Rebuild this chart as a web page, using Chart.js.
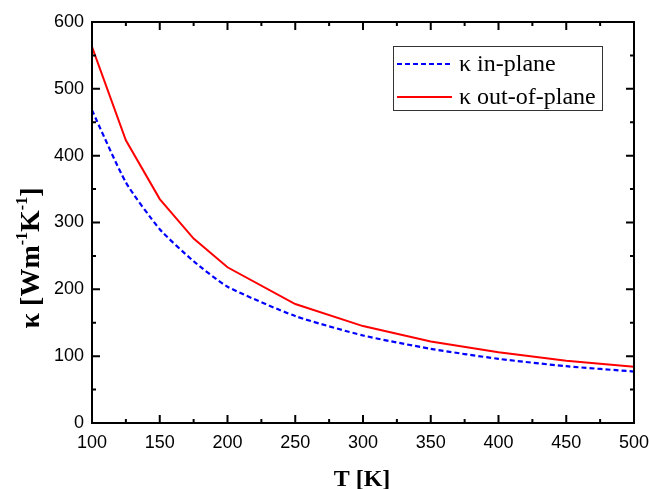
<!DOCTYPE html>
<html>
<head>
<meta charset="utf-8">
<script src="https://cdn.jsdelivr.net/npm/chart.js@4"></script>
<style>
  html, body { margin: 0; padding: 0; background: #fff; }
  #wrap { width: 649px; height: 489px; position: relative; }
</style>
</head>
<body>
<div id="wrap"><canvas id="kappaChart"></canvas></div>
<script>
// Temperatures (K) and thermal conductivity (W m^-1 K^-1)
const temps = [100, 125, 150, 175, 200, 250, 300, 350, 400, 450, 500]
const kappaInPlane = [468, 360, 290, 242, 204, 160, 131, 111, 96, 85, 77]
const kappaOutOfPlane = [563, 423, 335, 276, 233, 178, 145, 122, 106, 93, 84]
const seriesLabels = ['\u03ba in-plane', '\u03ba out-of-plane']
const xTicks = [100, 150, 200, 250, 300, 350, 400, 450, 500]
const yTicks = [0, 100, 200, 300, 400, 500, 600]

const toPoints = (ys) => temps.map((t, i) => ({ x: t, y: ys[i] }))

// Frame, inward ticks, legend box and axis titles (Origin-style)
const originFrame = {
    id: 'originFrame',
    afterDraw(chart) {
        const { ctx, chartArea: a, scales } = chart
        ctx.save()
        ctx.strokeStyle = '#000'
        ctx.lineWidth = 2
        ctx.strokeRect(a.left, a.top, a.right - a.left, a.bottom - a.top)

        for (let t = 100; t <= 500; t += 25) {
            const px = scales.x.getPixelForValue(t)
            const len = t % 50 === 0 ? 8 : 4
            ctx.beginPath()
            ctx.moveTo(px, a.bottom); ctx.lineTo(px, a.bottom - len)
            ctx.moveTo(px, a.top); ctx.lineTo(px, a.top + len)
            ctx.stroke()
        }
        for (let v = 0; v <= 600; v += 50) {
            const py = scales.y.getPixelForValue(v)
            const len = v % 100 === 0 ? 8 : 4
            ctx.beginPath()
            ctx.moveTo(a.left, py); ctx.lineTo(a.left + len, py)
            ctx.moveTo(a.right, py); ctx.lineTo(a.right - len, py)
            ctx.stroke()
        }

        // legend
        ctx.lineWidth = 1
        ctx.strokeStyle = '#333'
        ctx.strokeRect(393.5, 46.5, 209, 64)
        const rows = [
            { y: 64, color: '#0000ff', dash: [5, 3] },
            { y: 97, color: '#ff0000', dash: [] }
        ]
        ctx.font = '24px "Liberation Serif", "Times New Roman", serif'
        ctx.textBaseline = 'middle'
        ctx.fillStyle = '#000'
        rows.forEach((r, i) => {
            ctx.beginPath()
            ctx.setLineDash(r.dash)
            ctx.strokeStyle = r.color
            ctx.lineWidth = 2
            ctx.moveTo(397, r.y); ctx.lineTo(452, r.y)
            ctx.stroke()
            ctx.setLineDash([])
            ctx.fillText(seriesLabels[i], 459, r.y + 1)
        })

        // x title
        ctx.font = 'bold 24px "Liberation Serif", "Times New Roman", serif'
        ctx.textAlign = 'center'
        ctx.textBaseline = 'alphabetic'
        ctx.fillText('T [K]', 362, 486)

        // y title with superscripts
        const big = 'bold 28px "Liberation Serif", "Times New Roman", serif'
        const sup = 'bold 16px "Liberation Serif", "Times New Roman", serif'
        const parts = [
            ['\u03ba [Wm', big, 0], ['-1', sup, -12], ['K', big, 0], ['-1', sup, -12], [']', big, 0]
        ]
        let total = 0
        parts.forEach(p => { ctx.font = p[1]; total += ctx.measureText(p[0]).width })
        ctx.translate(39, 258)
        ctx.rotate(-Math.PI / 2)
        ctx.textAlign = 'left'
        let x = -total / 2
        parts.forEach(p => {
            ctx.font = p[1]
            ctx.fillText(p[0], x, p[2])
            x += ctx.measureText(p[0]).width
        })
        ctx.restore()
    }
}

const tickFont = { family: '"Liberation Sans", Arial, sans-serif', size: 18 }

new Chart(document.getElementById('kappaChart'), {
    type: 'line',
    data: {
        datasets: [
            {
                label: seriesLabels[0],
                data: toPoints(kappaInPlane),
                borderColor: '#0000ff',
                borderWidth: 2.2,
                borderDash: [5, 3],
                pointRadius: 0,
                tension: 0.2,
                fill: false
            },
            {
                label: seriesLabels[1],
                data: toPoints(kappaOutOfPlane),
                borderColor: '#ff0000',
                borderWidth: 2,
                pointRadius: 0,
                tension: 0,
                fill: false
            }
        ]
    },
    options: {
        responsive: true,
        maintainAspectRatio: false,
        animation: false,
        layout: { padding: { top: 22, right: 15, left: 0, bottom: 0 } },
        plugins: { legend: { display: false }, tooltip: { enabled: false } },
        scales: {
            x: {
                type: 'linear',
                min: 100,
                max: 500,
                afterFit: (s) => { s.height = 66; s.paddingLeft = 0; s.paddingRight = 0 },
                afterBuildTicks: (s) => { s.ticks = xTicks.map(v => ({ value: v })) },
                grid: { display: false, drawTicks: false },
                border: { display: false },
                ticks: { color: '#000', font: tickFont, padding: 9, maxRotation: 0 }
            },
            y: {
                min: 0,
                max: 600,
                afterFit: (s) => { s.width = 92; s.paddingTop = 0; s.paddingBottom = 0 },
                afterBuildTicks: (s) => { s.ticks = yTicks.map(v => ({ value: v })) },
                grid: { display: false, drawTicks: false },
                border: { display: false },
                ticks: { color: '#000', font: tickFont, padding: 8 }
            }
        }
    },
    plugins: [originFrame]
})
</script>
</body>
</html>
